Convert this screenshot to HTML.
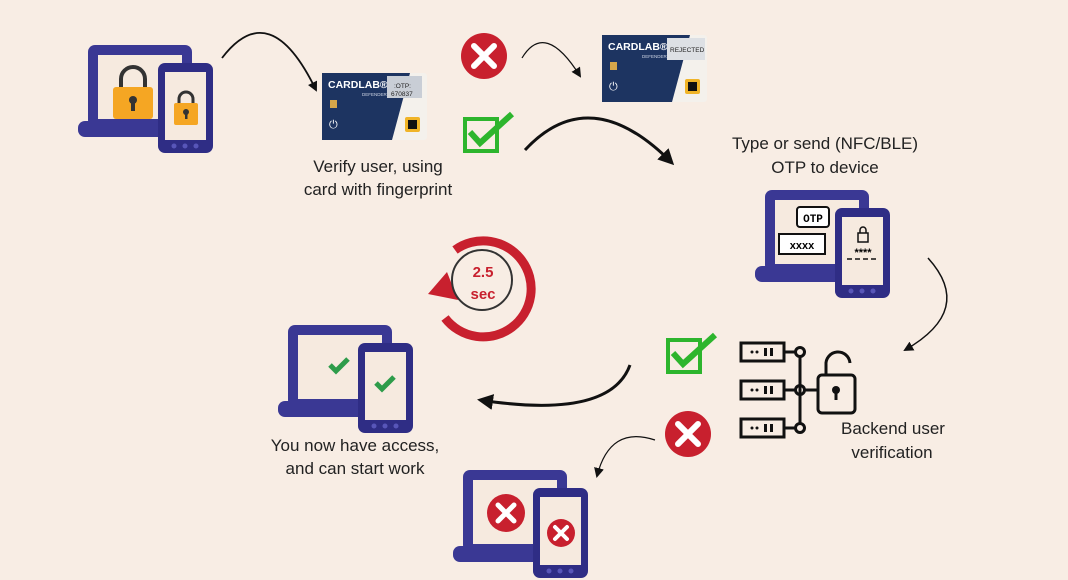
<!DOCTYPE html>
<html><head><style>
body{margin:0;background:#f8ede4;}
svg{display:block;font-family:"Liberation Sans",sans-serif;}
</style></head><body>
<svg width="1068" height="580" viewBox="0 0 1068 580">
<defs>
<g id="dev">
<rect x="10" y="0" width="104" height="82" rx="7" fill="#3a3894"/>
<rect x="20" y="10" width="84" height="64" fill="#f6eadf"/>
<rect x="0" y="76" width="122" height="16" rx="7" fill="#3a3894"/>
<rect x="80" y="18" width="55" height="90" rx="7" fill="#2f2d85"/>
<rect x="87" y="27" width="41" height="68" fill="#f6eadf"/>
<circle cx="96" cy="101" r="2.5" fill="#5856b8"/><circle cx="107" cy="101" r="2.5" fill="#5856b8"/><circle cx="118" cy="101" r="2.5" fill="#5856b8"/>
</g>
<marker id="ah" markerWidth="10" markerHeight="10" refX="8" refY="5" orient="auto" markerUnits="userSpaceOnUse"><path d="M0,0 L10,5 L0,10 Z" fill="#111"/></marker>
<marker id="ah2" markerWidth="16" markerHeight="16" refX="13" refY="8" orient="auto" markerUnits="userSpaceOnUse"><path d="M0,0 L16,8 L0,16 Z" fill="#111"/></marker>
</defs>

<!-- device 1 locked -->
<g transform="translate(78,45)"><use href="#dev"/>
<path d="M43,44 v-10 a12,12 0 0 1 24,0 v10" fill="none" stroke="#333" stroke-width="4"/>
<rect x="35" y="42" width="40" height="32" rx="3" fill="#f5a623"/>
<circle cx="55" cy="55" r="4" fill="#333"/><rect x="53" y="56" width="4" height="10" fill="#333"/>
<path d="M101,60 v-6 a7,7 0 0 1 14,0 v6" fill="none" stroke="#333" stroke-width="3"/>
<rect x="96" y="58" width="24" height="22" rx="2" fill="#f5a623"/>
<circle cx="108" cy="67" r="3" fill="#333"/><rect x="107" y="67" width="2.5" height="7" fill="#333"/>
</g>

<!-- card 1 -->
<g transform="translate(322,73)">
<rect width="105" height="67" rx="3" fill="#f4f1ec"/>
<path d="M0,0 H88 L70,67 H0 Z" fill="#1d3461"/>
<text x="6" y="15" font-size="10.5" font-weight="bold" fill="#fff">CARDLAB®</text>
<text x="40" y="23" font-size="4.5" fill="#cfd6e6">DEFENDER</text>
<rect x="65" y="3" width="35" height="22" fill="#c9ced6"/>
<text x="72" y="15" font-size="6.5" fill="#222">:OTP:</text>
<text x="69" y="23" font-size="6.5" fill="#222">670837</text>
<rect x="8" y="27" width="7" height="8" fill="#d6a64a"/>
<text x="7" y="55" font-size="11" fill="#fff">⏻</text>
<rect x="83" y="44" width="15" height="15" rx="2" fill="#f0b428"/><rect x="86" y="47" width="9" height="9" fill="#111"/>
</g>
<!-- card 2 -->
<g transform="translate(602,35)">
<rect width="105" height="67" rx="3" fill="#f4f1ec"/>
<path d="M0,0 H88 L70,67 H0 Z" fill="#1d3461"/>
<text x="6" y="15" font-size="10.5" font-weight="bold" fill="#fff">CARDLAB®</text>
<text x="40" y="23" font-size="4.5" fill="#cfd6e6">DEFENDER</text>
<rect x="65" y="3" width="38" height="22" fill="#dde0e4"/>
<text x="68" y="17" font-size="6.5" fill="#222">REJECTED</text>
<rect x="8" y="27" width="7" height="8" fill="#d6a64a"/>
<text x="7" y="55" font-size="11" fill="#fff">⏻</text>
<rect x="83" y="44" width="15" height="15" rx="2" fill="#f0b428"/><rect x="86" y="47" width="9" height="9" fill="#111"/>
</g>

<!-- red X 1 -->
<circle cx="484" cy="56" r="23" fill="#c8202e"/>
<path d="M474,46 L494,66 M494,46 L474,66" stroke="#fff" stroke-width="6" stroke-linecap="round"/>
<!-- red X 2 -->
<circle cx="688" cy="434" r="23" fill="#c8202e"/>
<path d="M678,424 L698,444 M698,424 L678,444" stroke="#fff" stroke-width="6" stroke-linecap="round"/>

<!-- green checks -->
<rect x="465" y="119" width="32" height="32" fill="none" stroke="#2db52d" stroke-width="4"/>
<path d="M470,132 L480,143 L512,114" fill="none" stroke="#2db52d" stroke-width="6"/>
<rect x="668" y="340" width="32" height="32" fill="none" stroke="#2db52d" stroke-width="4"/>
<path d="M673,353 L683,364 L715,335" fill="none" stroke="#2db52d" stroke-width="6"/>

<!-- arrows -->
<g fill="none" stroke="#111">
<path d="M222,58 Q270,-5 316,90" stroke-width="1.8" marker-end="url(#ah)"/>
<path d="M522,58 Q545,20 580,76" stroke-width="1.2" marker-end="url(#ah)"/>
<path d="M525,150 Q590,80 672,163" stroke-width="3" marker-end="url(#ah2)"/>
<path d="M928,258 Q975,310 905,350" stroke-width="1.5" marker-end="url(#ah)"/>
<path d="M630,365 Q610,420 480,400" stroke-width="3" marker-end="url(#ah2)"/>
<path d="M655,440 Q610,425 597,476" stroke-width="1.2" marker-end="url(#ah)"/>
</g>

<!-- device 2 OTP -->
<g transform="translate(755,190)"><use href="#dev"/>
<rect x="42" y="17" width="32" height="20" rx="3" fill="#fff" stroke="#111" stroke-width="2"/>
<text x="58" y="32" font-size="11" font-weight="bold" text-anchor="middle" font-family="Liberation Mono">OTP</text>
<rect x="24" y="44" width="46" height="20" fill="#fff" stroke="#111" stroke-width="2"/>
<text x="47" y="59" font-size="11" font-weight="bold" text-anchor="middle">xxxx</text>
<rect x="103" y="43" width="10" height="9" fill="none" stroke="#111" stroke-width="1.5"/>
<path d="M105,43 v-3 a3,3 0 0 1 6,0 v3" fill="none" stroke="#111" stroke-width="1.5"/>
<text x="108" y="66" font-size="11" font-weight="bold" text-anchor="middle">****</text>
<line x1="92" y1="69" x2="124" y2="69" stroke="#111" stroke-width="1.5" stroke-dasharray="5 3"/>
</g>

<!-- device 3 access -->
<g transform="translate(278,325)"><use href="#dev"/>
<path d="M52,40 L58,46 L70,34" fill="none" stroke="#2e9c4a" stroke-width="5"/>
<path d="M98,58 L104,64 L116,52" fill="none" stroke="#2e9c4a" stroke-width="5"/>
</g>

<!-- device 4 rejected -->
<g transform="translate(453,470)"><use href="#dev"/>
<circle cx="53" cy="43" r="19" fill="#c8202e"/>
<path d="M45,35 L61,51 M61,35 L45,51" stroke="#fff" stroke-width="5" stroke-linecap="round"/>
<circle cx="108" cy="63" r="14" fill="#c8202e"/>
<path d="M102,57 L114,69 M114,57 L102,69" stroke="#fff" stroke-width="4" stroke-linecap="round"/>
</g>

<!-- timer -->
<path d="M455,250 A48,48 0 1 1 445,318" fill="none" stroke="#c8202e" stroke-width="9"/>
<path d="M428,294 L447,272 L458,300 Z" fill="#c8202e"/>
<circle cx="482" cy="280" r="30" fill="none" stroke="#333" stroke-width="2"/>
<text x="483" y="277" font-size="15" font-weight="bold" fill="#c8202e" text-anchor="middle">2.5</text>
<text x="483" y="299" font-size="15" font-weight="bold" fill="#c8202e" text-anchor="middle">sec</text>

<!-- server -->
<g fill="none" stroke="#111" stroke-width="3">
<rect x="741" y="343" width="43" height="18"/><rect x="741" y="381" width="43" height="18"/><rect x="741" y="419" width="43" height="18"/>
<line x1="784" y1="352" x2="796" y2="352"/><line x1="784" y1="390" x2="796" y2="390"/><line x1="784" y1="428" x2="796" y2="428"/>
<line x1="800" y1="356" x2="800" y2="424"/>
<circle cx="800" cy="352" r="4.5"/><circle cx="800" cy="390" r="4.5"/><circle cx="800" cy="428" r="4.5"/>
<line x1="805" y1="390" x2="818" y2="390"/>
<rect x="818" y="375" width="37" height="38" rx="4"/>
<path d="M826,375 v-10 a12,12 0 0 1 24,-2"/>
</g>
<g fill="#111"><circle cx="752" cy="352" r="1.5"/><circle cx="757" cy="352" r="1.5"/><rect x="764" y="348" width="3" height="8"/><rect x="770" y="348" width="3" height="8"/>
<circle cx="752" cy="390" r="1.5"/><circle cx="757" cy="390" r="1.5"/><rect x="764" y="386" width="3" height="8"/><rect x="770" y="386" width="3" height="8"/>
<circle cx="752" cy="428" r="1.5"/><circle cx="757" cy="428" r="1.5"/><rect x="764" y="424" width="3" height="8"/><rect x="770" y="424" width="3" height="8"/>
<circle cx="836" cy="390" r="4"/><rect x="834.5" y="390" width="3" height="10"/></g>

<!-- labels -->
<g font-size="17" fill="#222" text-anchor="middle">
<text x="378" y="172">Verify user, using</text>
<text x="378" y="195">card with fingerprint</text>
<text x="825" y="149">Type or send (NFC/BLE)</text>
<text x="825" y="173">OTP to device</text>
<text x="893" y="434">Backend user</text>
<text x="892" y="458">verification</text>
<text x="355" y="451">You now have access,</text>
<text x="355" y="474">and can start work</text>
</g>
</svg>
</body></html>
